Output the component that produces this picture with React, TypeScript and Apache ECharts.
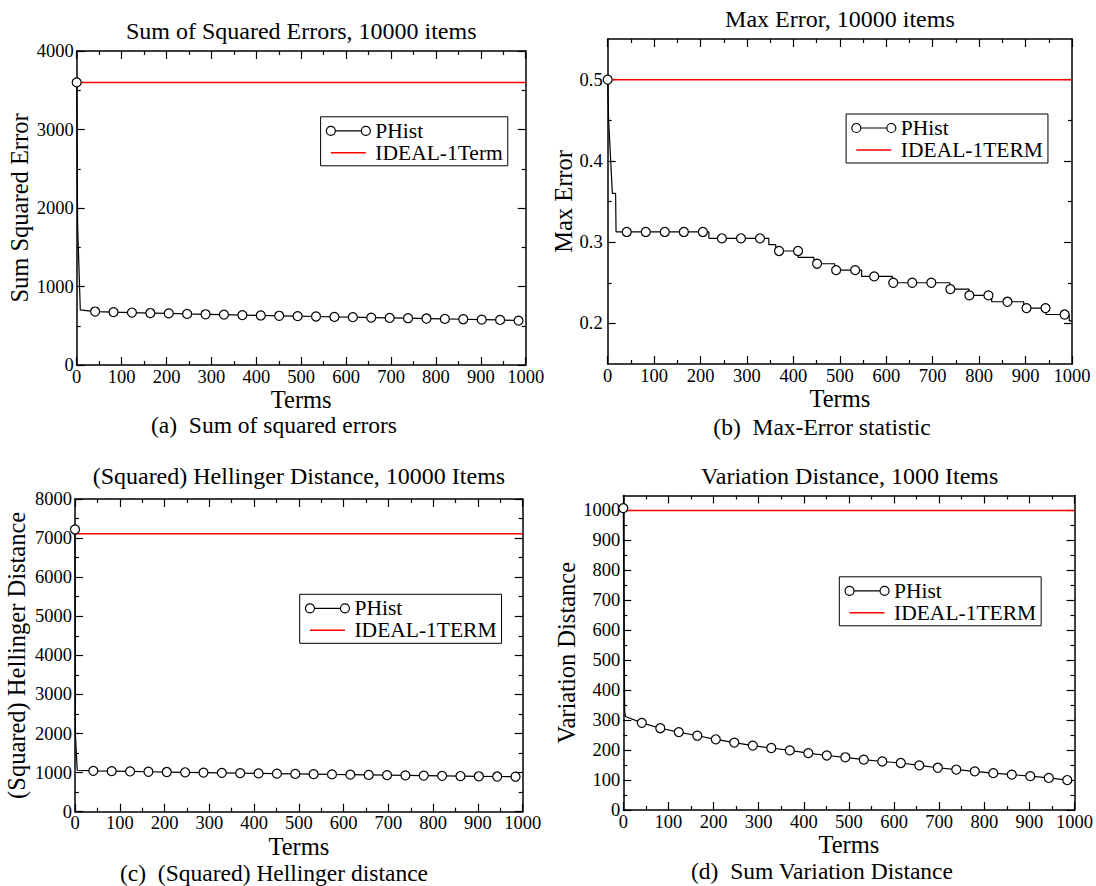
import React, { useEffect, useRef } from 'react';
import * as echarts from 'echarts';

const FF = 'Liberation Serif, Times New Roman, serif';

// shared x axis
const xMajor = [0, 100, 200, 300, 400, 500, 600, 700, 800, 900, 1000];
const xMinor = [50, 150, 250, 350, 450, 550, 650, 750, 850, 950];
const markerTerms = [0, 41, 82, 123, 164, 205, 246, 287, 328, 369, 410, 451, 492, 533, 574, 615, 656, 697, 738, 779, 820, 861, 902, 943, 984];

// (a) Sum of squared errors
const sseIdeal = 3600;
const sseMarkers = [3600, 681, 674, 668, 662, 657, 651, 646, 641, 636, 631, 627, 622, 618, 613, 609, 604, 600, 596, 592, 587, 583, 578, 574, 566];
const sseDropX = [2, 8];
const sseDropY = [1800, 702];
const sseYMajor = [0, 1000, 2000, 3000, 4000];
const sseYMinor = [500, 1500, 2500, 3500];

// (b) Max error
const maxIdeal = 0.5;
const maxMarkers = [0.5, 0.3125, 0.3125, 0.3125, 0.3125, 0.3125, 0.3047, 0.3047, 0.3047, 0.2891, 0.2891, 0.2734, 0.2656, 0.2656, 0.2578, 0.25, 0.25, 0.25, 0.2422, 0.2344, 0.2344, 0.2266, 0.2188, 0.2188, 0.2109];
const maxCornerX = [0, 2, 10, 17, 18, 218, 218, 347, 347, 362, 362, 410, 410, 444, 444, 489, 489, 547, 547, 613, 613, 737, 737, 778, 778, 827, 827, 896, 896, 944, 944, 994, 994, 1000];
const maxCornerY = [0.5, 0.45, 0.36, 0.36, 0.3125, 0.3125, 0.3047, 0.3047, 0.2969, 0.2969, 0.2891, 0.2891, 0.2813, 0.2813, 0.2734, 0.2734, 0.2656, 0.2656, 0.2578, 0.2578, 0.25, 0.25, 0.2422, 0.2422, 0.2344, 0.2344, 0.2266, 0.2266, 0.2188, 0.2188, 0.2109, 0.2109, 0.2031, 0.2031];
const maxYMajor = [0.2, 0.3, 0.4, 0.5];
const maxYMinor = [0.25, 0.35, 0.45];

// (c) Hellinger
const helIdeal = 7110;
const helMarkers = [7220, 1045, 1037, 1030, 1022, 1015, 1008, 1001, 994, 987, 980, 973, 967, 961, 954, 948, 942, 936, 930, 924, 918, 912, 906, 900, 895];
const helDropX = [1, 5];
const helDropY = [1950, 1060];
const helYMajor = [0, 1000, 2000, 3000, 4000, 5000, 6000, 7000, 8000];
const helYMinor = [500, 1500, 2500, 3500, 4500, 5500, 6500, 7500];

// (d) Variation distance
const varIdeal = 1000;
const varMarkers = [1008, 291, 273, 260, 248, 236, 225, 215, 207, 199, 190, 182, 176, 168, 162, 157, 149, 141, 135, 129, 123, 118, 113, 107, 100];
const varDropX = [3, 5];
const varDropY = [330, 312];
const varYMajor = [0, 100, 200, 300, 400, 500, 600, 700, 800, 900, 1000];
const varYMinor = [50, 150, 250, 350, 450, 550, 650, 750, 850, 950];

const PHIST_ICON = 'path://M0,4.5a4.5,4.5 0 1,0 9,0a4.5,4.5 0 1,0 -9,0M9,4.5L35,4.5M35,4.5a4.5,4.5 0 1,0 9,0a4.5,4.5 0 1,0 -9,0';
const LINE_ICON = 'path://M0,0L0,0M4.5,4.5L39.5,4.5M44,9L44,9';

type Panel = {
  grid: { left: number; top: number; width: number; height: number };
  yMin: number; yMax: number; yMajor: number[]; yMinor: number[];
  yName: string; yNameGap: number; yLabelMargin: number; xNameGap: number;
  title: string; titlePos: [number, number];
  caption: string; captionPos: [number, number];
  legendPos: [number, number]; idealName: string; ideal: number;
  lineData: any[];
};

function dropData(markers: number[], dx: number[], dy: number[]) {
  const out: any[] = [{ value: [markerTerms[0], markers[0]] }];
  dx.forEach((x, i) => out.push({ value: [x, dy[i]], symbol: 'none' }));
  for (let i = 1; i < markers.length; i++) out.push({ value: [markerTerms[i], markers[i]] });
  return out;
}

function stepData() {
  const pts: any[] = [];
  markerTerms.forEach((x, i) => pts.push({ value: [x, maxMarkers[i]] }));
  maxCornerX.forEach((x, i) => pts.push({ value: [x, maxCornerY[i]], symbol: 'none' }));
  return pts.sort((a, b) => a.value[0] - b.value[0]);
}

const panels: Panel[] = [
  {
    grid: { left: 76.7, top: 51, width: 449, height: 314 },
    yMin: 0, yMax: 4000, yMajor: sseYMajor, yMinor: sseYMinor,
    yName: 'Sum Squared Error', yNameGap: 45, yLabelMargin: 3, xNameGap: 18,
    title: 'Sum of Squared Errors, 10000 items', titlePos: [301.2, 31],
    caption: '(a)\u2002Sum of squared errors', captionPos: [274, 425],
    legendPos: [320.6, 116.8], idealName: 'IDEAL-1Term', ideal: sseIdeal,
    lineData: dropData(sseMarkers, sseDropX, sseDropY),
  },
  {
    grid: { left: 607.7, top: 39, width: 464.3, height: 325 },
    yMin: 0.15, yMax: 0.55, yMajor: maxYMajor, yMinor: maxYMinor,
    yName: 'Max Error', yNameGap: 28, yLabelMargin: 5, xNameGap: 20,
    title: 'Max Error, 10000 items', titlePos: [839.9, 19],
    caption: '(b)\u2002Max-Error statistic', captionPos: [822, 426.7],
    legendPos: [846.1, 114], idealName: 'IDEAL-1TERM', ideal: maxIdeal,
    lineData: stepData(),
  },
  {
    grid: { left: 75, top: 499, width: 447.7, height: 312.7 },
    yMin: 0, yMax: 8000, yMajor: helYMajor, yMinor: helYMinor,
    yName: '(Squared) Hellinger Distance', yNameGap: 46, yLabelMargin: 3, xNameGap: 19,
    title: '(Squared) Hellinger Distance, 10000 Items', titlePos: [298.9, 476.3],
    caption: '(c)\u2002(Squared) Hellinger distance', captionPos: [274, 873],
    legendPos: [299.7, 594.3], idealName: 'IDEAL-1TERM', ideal: helIdeal,
    lineData: dropData(helMarkers, helDropX, helDropY),
  },
  {
    grid: { left: 623.3, top: 495.5, width: 452.7, height: 314.5 },
    yMin: 0, yMax: 1050, yMajor: varYMajor, yMinor: varYMinor,
    yName: 'Variation Distance', yNameGap: 41, yLabelMargin: 3, xNameGap: 19,
    title: 'Variation Distance, 1000 Items', titlePos: [849.7, 476.3],
    caption: '(d)\u2002Sum Variation Distance', captionPos: [822, 871.3],
    legendPos: [839.3, 576.8], idealName: 'IDEAL-1TERM', ideal: varIdeal,
    lineData: dropData(varMarkers, varDropX, varDropY),
  },
];

const plain = (v: number) => String(v);

function buildOption() {
  const grid: any[] = [];
  const xAxis: any[] = [];
  const yAxis: any[] = [];
  const series: any[] = [];
  const legend: any[] = [];
  const graphic: any[] = [];

  const axisBase = (gi: number, pos: string, min: number, max: number, ticks: number[], len: number, showLine: boolean) => ({
    type: 'value', gridIndex: gi, position: pos, min, max,
    axisLine: { show: showLine, onZero: false, lineStyle: { color: '#000', width: 1.5 } },
    axisTick: { show: true, inside: true, length: len, customValues: ticks, lineStyle: { color: '#000', width: 1.2 } },
    axisLabel: { show: false },
    splitLine: { show: false },
  });

  panels.forEach((p, i) => {
    grid.push({ ...p.grid, containLabel: false });
    const xMain: any = axisBase(i, 'bottom', 0, 1000, xMajor, 8, true);
    xMain.axisLabel = { show: true, customValues: xMajor, formatter: plain, margin: 2, color: '#000', fontFamily: FF, fontSize: 18.5 };
    xMain.name = 'Terms';
    xMain.nameLocation = 'middle';
    xMain.nameGap = p.xNameGap;
    xMain.nameTextStyle = { color: '#000', fontFamily: FF, fontSize: 24.5 };
    xAxis.push(xMain);
    xAxis.push(axisBase(i, 'bottom', 0, 1000, xMinor, 4, false));
    xAxis.push(axisBase(i, 'top', 0, 1000, xMajor, 8, true));
    xAxis.push(axisBase(i, 'top', 0, 1000, xMinor, 4, false));

    const yMain: any = axisBase(i, 'left', p.yMin, p.yMax, p.yMajor, 8, true);
    yMain.axisLabel = { show: true, customValues: p.yMajor, formatter: plain, margin: p.yLabelMargin, color: '#000', fontFamily: FF, fontSize: 18.5 };
    yMain.name = p.yName;
    yMain.nameLocation = 'middle';
    yMain.nameGap = p.yNameGap;
    yMain.nameTextStyle = { color: '#000', fontFamily: FF, fontSize: 24.5 };
    yAxis.push(yMain);
    yAxis.push(axisBase(i, 'left', p.yMin, p.yMax, p.yMinor, 4, false));
    yAxis.push(axisBase(i, 'right', p.yMin, p.yMax, p.yMajor, 8, true));
    yAxis.push(axisBase(i, 'right', p.yMin, p.yMax, p.yMinor, 4, false));

    series.push({
      name: p.idealName, type: 'line', xAxisIndex: i * 4, yAxisIndex: i * 4,
      data: [[0, p.ideal], [1000, p.ideal]], symbol: 'none',
      lineStyle: { color: '#ff0000', width: 1.5 }, itemStyle: { color: '#ff0000' }, z: 2,
    });
    series.push({
      name: 'PHist', type: 'line', xAxisIndex: i * 4, yAxisIndex: i * 4,
      data: p.lineData, symbol: 'circle', symbolSize: 9, showSymbol: true,
      lineStyle: { color: '#000', width: 1.2 },
      itemStyle: { color: '#fff', borderColor: '#000', borderWidth: 1.2 }, z: 3,
    });

    legend.push({
      orient: 'vertical', left: p.legendPos[0], top: p.legendPos[1],
      borderColor: '#000', borderWidth: 1, backgroundColor: '#fff',
      padding: [3, 5, 2, 5], itemGap: 0, itemWidth: 44, itemHeight: 9,
      textStyle: { color: '#000', fontFamily: FF, fontSize: 21.5, lineHeight: 19.5 },
      selectedMode: false,
      data: [
        { name: 'PHist', icon: PHIST_ICON, itemStyle: { color: '#fff', borderColor: '#000', borderWidth: 1.2 } },
        { name: p.idealName, icon: LINE_ICON, itemStyle: { color: '#ff0000', borderColor: '#ff0000', borderWidth: 1.5 } },
      ],
    });

    graphic.push({
      type: 'text', x: p.titlePos[0], y: p.titlePos[1],
      style: { text: p.title, fill: '#000', font: `24px ${FF}`, align: 'center', verticalAlign: 'middle' },
    });
    graphic.push({
      type: 'text', x: p.captionPos[0], y: p.captionPos[1],
      style: { text: p.caption, fill: '#000', font: `23.5px ${FF}`, align: 'center', verticalAlign: 'middle' },
    });
  });

  return { animation: false, backgroundColor: '#fff', grid, xAxis, yAxis, series, legend, graphic };
}

export default function App() {
  const ref = useRef<HTMLDivElement>(null);
  useEffect(() => {
    if (!ref.current) return;
    const chart = echarts.init(ref.current, undefined, { renderer: 'svg' });
    chart.setOption(buildOption() as any);
    return () => chart.dispose();
  }, []);
  return <div ref={ref} style={{ position: 'fixed', left: 0, top: 0, width: 1096, height: 886, background: '#fff' }} />;
}
